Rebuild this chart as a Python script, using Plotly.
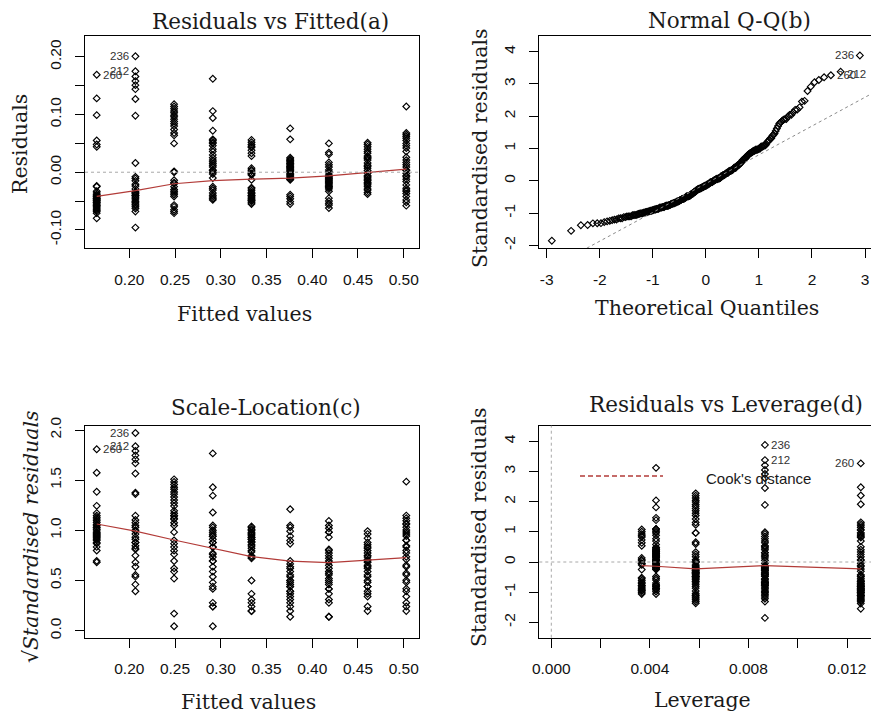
import math
from statistics import NormalDist
import plotly.graph_objects as go

W, H = 871, 720

# ---------------- data ----------------
fitted_levels = [0.1644, 0.2067, 0.2490, 0.2913, 0.3336, 0.3759, 0.4182, 0.4605, 0.5028]
leverage_levels = [0.01256, 0.00867, 0.00586, 0.00425, 0.00367, 0.00425, 0.00586, 0.00867, 0.01256]

resid_L1 = [0.169, 0.128, 0.099, 0.055, 0.048, 0.044, -0.024, -0.025, -0.033, -0.036, -0.039,
            -0.040, -0.042, -0.043, -0.045, -0.046, -0.047, -0.049, -0.050, -0.052, -0.053,
            -0.055, -0.057, -0.058, -0.060, -0.062, -0.064, -0.066, -0.068, -0.071, -0.080]
resid_L2 = [0.201, 0.175, 0.166, 0.158, 0.151, 0.144, 0.127, 0.098, 0.016, -0.008, -0.011,
            -0.015, -0.021, -0.024, -0.029, -0.034, -0.035, -0.037, -0.040, -0.040, -0.043,
            -0.045, -0.048, -0.051, -0.052, -0.055, -0.057, -0.060, -0.063, -0.068, -0.096]
resid_L3 = [0.118, 0.114, 0.110, 0.106, 0.103, 0.099, 0.096, 0.092, 0.088, 0.084, 0.080,
            0.074, 0.068, 0.064, 0.050, 0.0015, -0.0001, -0.014, -0.018, -0.020, -0.025,
            -0.030, -0.033, -0.036, -0.039, -0.042, -0.057, -0.060, -0.065, -0.068, -0.071]
resid_L4 = [0.162, 0.106, 0.094, 0.072, 0.057, 0.055, 0.052, 0.050, 0.046, 0.040, 0.036,
            0.030, 0.025, 0.021, 0.018, 0.015, 0.012, 0.009, 0.004, 0.003, -0.0001, -0.003,
            -0.010, -0.025, -0.028, -0.031, -0.036, -0.040, -0.043, -0.046, -0.048]
resid_L5 = [0.056, 0.052, 0.048, 0.045, 0.043, 0.038, 0.033, 0.028, 0.007, 0.004, 0.002,
            -0.002, -0.003, -0.005, -0.013, -0.027, -0.029, -0.032, -0.035, -0.037, -0.040,
            -0.041, -0.043, -0.045, -0.047, -0.049, -0.050, -0.053, -0.055]
resid_L6 = [0.076, 0.057, 0.025, 0.023, 0.021, 0.020, 0.018, 0.016, 0.015, 0.013, 0.011,
            0.010, 0.008, 0.007, 0.005, 0.003, 0.001, -0.002, -0.004, -0.006, -0.008, -0.010,
            -0.012, -0.013, -0.039, -0.042, -0.046, -0.051, -0.055]
resid_L7 = [0.050, 0.034, 0.031, 0.017, 0.013, 0.009, 0.004, 0.001, -0.001, -0.005, -0.007,
            -0.009, -0.011, -0.012, -0.014, -0.016, -0.018, -0.020, -0.022, -0.024, -0.025,
            -0.027, -0.029, -0.033, -0.045, -0.050, -0.054, -0.057, -0.062]
resid_L8 = [0.051, 0.048, 0.044, 0.040, 0.036, 0.033, 0.028, 0.026, 0.024, 0.021, 0.016,
            0.012, 0.010, 0.007, 0.003, -0.002, -0.006, -0.008, -0.010, -0.013, -0.015,
            -0.018, -0.020, -0.022, -0.025, -0.029, -0.031, -0.035, -0.038]
resid_L9 = [0.114, 0.068, 0.065, 0.062, 0.059, 0.055, 0.050, 0.046, 0.042, 0.036, 0.026,
            0.021, 0.017, 0.013, 0.009, 0.004, 0.003, -0.002, -0.006, -0.008, -0.012, -0.016,
            -0.022, -0.028, -0.031, -0.033, -0.037, -0.042, -0.048, -0.052, -0.058]
residuals_by_level = [resid_L1, resid_L2, resid_L3, resid_L4, resid_L5,
                      resid_L6, resid_L7, resid_L8, resid_L9]

residual_se = 0.0520  # residual standard error

# red smoothers
smooth_resid = [-0.042, -0.032, -0.020, -0.0145, -0.012, -0.0104, -0.0064, -0.0006, 0.0052]
smooth_scale = [1.063, 0.993, 0.904, 0.821, 0.738, 0.694, 0.678, 0.704, 0.728]
smooth_lev_x = [0.00367, 0.00425, 0.00586, 0.00867, 0.01256]
smooth_lev_y = [-0.12, -0.14, -0.23, -0.12, -0.23]

# Q-Q reference line (read)
qq_slope = 0.891
qq_intercept = -0.086

# labelled observations: id -> (level index, residual)
labelled = {"236": (1, 0.201), "212": (1, 0.175), "260": (0, 0.169)}

tick_a_x = [0.20, 0.25, 0.30, 0.35, 0.40, 0.45, 0.50]
tick_a_x_text = ["0.20", "0.25", "0.30", "0.35", "0.40", "0.45", "0.50"]
tick_a_y = [-0.10, -0.05, 0.0, 0.05, 0.10, 0.15, 0.20]
tick_a_y_text = ["-0.10", "", "0.00", "", "0.10", "", "0.20"]
tick_b_x = [-3, -2, -1, 0, 1, 2, 3]
tick_b_x_text = ["-3", "-2", "-1", "0", "1", "2", "3"]
tick_std = [-2, -1, 0, 1, 2, 3, 4]
tick_std_text = ["-2", "-1", "0", "1", "2", "3", "4"]
tick_c_y = [0.0, 0.5, 1.0, 1.5, 2.0]
tick_c_y_text = ["0.0", "0.5", "1.0", "1.5", "2.0"]
tick_d_x = [0.000, 0.002, 0.004, 0.006, 0.008, 0.010, 0.012]
tick_d_x_text = ["0.000", "", "0.004", "", "0.008", "", "0.012"]

# ---------------- derived quantities ----------------
fx, rr, hh, sr = [], [], [], []
for k, vals in enumerate(residuals_by_level):
    for v in vals:
        fx.append(fitted_levels[k])
        rr.append(v)
        hh.append(leverage_levels[k])
        sr.append(v / (residual_se * math.sqrt(1 - leverage_levels[k])))
sqrt_abs = [math.sqrt(abs(s)) for s in sr]
n = len(sr)
nd = NormalDist()
order = sorted(range(n), key=lambda i: sr[i])
qq_y = [sr[i] for i in order]
qq_x = [nd.inv_cdf((j + 0.5) / n) for j in range(n)]
rank_of = {i: j for j, i in enumerate(order)}


def find_obs(level, value):
    for i in range(n):
        if abs(fx[i] - fitted_levels[level]) < 1e-9 and abs(rr[i] - value) < 1e-9:
            return i
    return None


lab_idx = {k: find_obs(*v) for k, v in labelled.items()}

# ---------------- figure ----------------
SERIF = "DejaVu Serif"
SANS = "Liberation Sans"
RED = "#b23b38"
fig = go.Figure()

mk = dict(symbol="diamond-open", size=5.2, color="black", line=dict(width=1.15, color="black"))


def pts(x, y, xa, ya):
    fig.add_trace(go.Scatter(x=x, y=y, mode="markers", marker=mk, xaxis=xa, yaxis=ya,
                             showlegend=False, hoverinfo="skip", cliponaxis=True))


def line(x, y, xa, ya, color=RED, dash="solid", width=1.2):
    fig.add_trace(go.Scatter(x=x, y=y, mode="lines", line=dict(color=color, dash=dash, width=width),
                             xaxis=xa, yaxis=ya, showlegend=False, hoverinfo="skip"))


pts(fx, rr, "x", "y")
line(fitted_levels, smooth_resid, "x", "y")
pts(qq_x, qq_y, "x2", "y2")
rng_b_x = [-3.14, 3.113]
line(rng_b_x, [qq_intercept + qq_slope * v for v in rng_b_x], "x2", "y2",
     color="#8a8a8a", dash="3px,3px", width=1)
pts(fx, sqrt_abs, "x3", "y3")
line(fitted_levels, smooth_scale, "x3", "y3")
pts(hh, sr, "x4", "y4")
line(smooth_lev_x, smooth_lev_y, "x4", "y4")


def px(v):
    return v / W


def py(v):
    return 1 - v / H


dom_x_left = [px(85), px(419)]
dom_x_right = [px(539.3), 1.0]
dom_y_top = [py(248), py(36)]
dom_y_bot = [py(637.7), py(425.7)]

common = dict(showline=True, linecolor="black", linewidth=1, ticks="outside", ticklen=9,
              tickwidth=1, tickcolor="black", showgrid=False, zeroline=False,
              tickfont=dict(family=SANS, size=15.5, color="#111"), tickmode="array",
              fixedrange=True, automargin=False)

fig.update_layout(
    width=W, height=H, margin=dict(l=0, r=0, t=0, b=0, pad=0, autoexpand=False),
    paper_bgcolor="white", plot_bgcolor="white", hovermode=False, showlegend=False,
    xaxis=dict(common, domain=dom_x_left, range=[0.1516, 0.5167], anchor="y", mirror=True,
               tickvals=tick_a_x, ticktext=tick_a_x_text, ticklabelstandoff=8),
    yaxis=dict(common, domain=dom_y_top, range=[-0.1314, 0.2362], anchor="x", mirror=True,
               tickvals=tick_a_y, ticktext=tick_a_y_text, tickangle=-90, ticklabelstandoff=8),
    xaxis2=dict(common, domain=dom_x_right, range=rng_b_x, anchor="y2", mirror=True,
                tickvals=tick_b_x, ticktext=tick_b_x_text, ticklabelstandoff=8),
    yaxis2=dict(common, domain=dom_y_top, range=[-2.08, 4.485], anchor="x2", mirror=False,
                tickvals=tick_std, ticktext=tick_std_text, tickangle=-90, ticklabelstandoff=8),
    xaxis3=dict(common, domain=dom_x_left, range=[0.1516, 0.5167], anchor="y3", mirror=True,
                tickvals=tick_a_x, ticktext=tick_a_x_text, ticklabelstandoff=8),
    yaxis3=dict(common, domain=dom_y_bot, range=[-0.07, 2.043], anchor="x3", mirror=True,
                tickvals=tick_c_y, ticktext=tick_c_y_text, tickangle=-90, ticklabelstandoff=8),
    xaxis4=dict(common, domain=dom_x_right, range=[-0.000487, 0.012974], anchor="y4", mirror=True,
                tickvals=tick_d_x, ticktext=tick_d_x_text, ticklabelstandoff=8),
    yaxis4=dict(common, domain=dom_y_bot, range=[-2.51, 4.52], anchor="x4", mirror=False,
                tickvals=tick_std, ticktext=tick_std_text, tickangle=-90, ticklabelstandoff=8),
)

shapes = [
    dict(type="line", xref="x domain", yref="y", x0=0, x1=1, y0=0, y1=0,
         line=dict(color="#a8a8a8", width=1, dash="dot")),
    dict(type="line", xref="x4 domain", yref="y4", x0=0, x1=1, y0=0, y1=0,
         line=dict(color="#a8a8a8", width=1, dash="dot")),
    dict(type="line", xref="x4", yref="y4 domain", x0=0, x1=0, y0=0, y1=1,
         line=dict(color="#a8a8a8", width=1, dash="dot")),
    dict(type="line", xref="paper", yref="paper", x0=px(580), x1=px(663), y0=py(476), y1=py(476),
         line=dict(color=RED, width=1.3, dash="5px,3px")),
]
fig.update_layout(shapes=shapes)


def ann(text, x, y, size, angle=0, family=SERIF, xanchor="center"):
    return dict(text=text, x=px(x), y=py(y), xref="paper", yref="paper", showarrow=False,
                xanchor=xanchor, yanchor="middle", textangle=angle,
                font=dict(family=family, size=size, color="#1a1a1a"))


TS, AS = 21.5, 20.5
annotations = [
    ann("Residuals vs Fitted(a)", 270, 21, TS),
    ann("Normal Q-Q(b)", 729, 20, TS),
    ann("Scale-Location(c)", 266, 407, TS),
    ann("Residuals vs Leverage(d)", 726, 404, TS),
    ann("Fitted values", 245, 314, AS),
    ann("Residuals", 20, 144, AS, angle=-90),
    ann("Theoretical Quantiles", 707, 308, AS),
    ann("Standardised residuals", 480, 148, AS, angle=-90),
    ann("√<i>Standardised residuals</i>", 31, 537, AS, angle=-90),
    ann("Fitted values", 248, 702, AS),
    ann("Standardised residuals", 479, 528, AS, angle=-90),
    ann("Leverage", 702, 700, AS),
    ann("Cook's distance", 704, 478, 15, family=SANS, xanchor="left"),
]


def lab(text, x, y, xa, ya, xanchor, xshift, yshift=0):
    return dict(text=text, x=x, y=y, xref=xa, yref=ya, showarrow=False, xanchor=xanchor,
                yanchor="middle", xshift=xshift, yshift=yshift,
                font=dict(family=SANS, size=11.5, color="#333"))


for key, i in lab_idx.items():
    left_side = fitted_levels.index(fx[i]) > 0
    annotations.append(lab(key, fx[i], rr[i], "x", "y",
                           "right" if left_side else "left", -4 if left_side else 4))
    annotations.append(lab(key, fx[i], sqrt_abs[i], "x3", "y3",
                           "right" if left_side else "left", -4 if left_side else 4))
    right_lev = hh[i] > 0.01
    annotations.append(lab(key, hh[i], sr[i], "x4", "y4",
                           "right" if right_lev else "left", -5 if right_lev else 4))
    j = rank_of[i]
    if j == n - 1:
        annotations.append(lab(key, qq_x[j], qq_y[j], "x2", "y2", "right", -4))
    else:
        annotations.append(lab(key, qq_x[j], qq_y[j], "x2", "y2", "left", 4, -2 if key == "212" else 0))

fig.update_layout(annotations=annotations)

post = ("document.documentElement.style.margin='0';document.body.style.margin='0';"
        "document.body.style.padding='0';document.body.style.overflow='hidden';"
        "var gd=document.getElementById('{plot_id}');gd.style.position='absolute';"
        "gd.style.left='0px';gd.style.top='0px';")
fig.write_html("out.html", config={"displayModeBar": False}, post_script=post)
